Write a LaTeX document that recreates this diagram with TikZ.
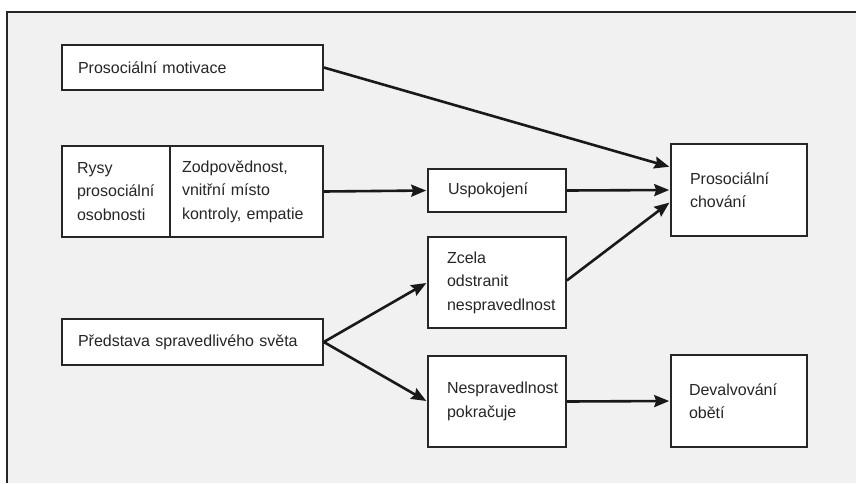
\documentclass[tikz,border=0pt]{standalone}
\usepackage{fontspec}
\setmainfont{Liberation Sans}
\usetikzlibrary{arrows.meta}
\begin{document}
\begin{tikzpicture}[x=1pt,y=-1pt,
  box/.style={draw=black!85, line width=1.6pt, fill=white, align=left,
    inner ysep=0pt, text=black!85, font=\fontsize{16}{23.5}\selectfont},
  conn/.style={draw=black!90, line width=2.6pt,
    -{Stealth[length=15pt,width=12pt,inset=2pt]}, shorten >=1pt}]
\useasboundingbox (0,0) rectangle (856,483);
\fill[gray!11] (7,12) rectangle (856,483);
\draw[line width=2.5pt, black!85] (7,483) -- (7,12) -- (856,12);

\node[box, inner xsep=16pt, text width=229pt, minimum height=45pt] (motiv) at (192.5,67.5) {Prosociální motivace};
\node[box, inner xsep=15pt, text width=78pt, minimum height=91pt] (rysy) at (116,191.5) {Rysy\\prosociální\\osobnosti};
\node[box, inner xsep=12pt, text width=129pt, minimum height=91pt] (zodp) at (246.5,191.5) {Zodpovědnost,\\vnitřní místo\\kontroly, empatie};
\node[box, inner xsep=16pt, text width=229pt, minimum height=46pt] (predst) at (192.5,342) {Představa spravedlivého světa};
\node[box, inner xsep=20pt, text width=98pt, minimum height=43pt] (usp) at (497,190.5) {Uspokojení};
\node[box, inner xsep=19pt, text width=98pt, minimum height=92pt] (chov) at (739,190) {Prosociální\\chování};
\node[box, inner xsep=19pt, text width=100pt, minimum height=91pt] (zcela) at (497,282.5) {Zcela\\odstranit\\nespravedlnost};
\node[box, inner xsep=19pt, text width=100pt, minimum height=91pt] (nespr) at (497,401.5) {Nespravedlnost\\pokračuje};
\node[box, inner xsep=18pt, text width=100pt, minimum height=92pt] (deval) at (739,401) {Devalvování\\obětí};

\draw[conn] (motiv.east) -- ([yshift=23pt]chov.west);
\draw[conn] (zodp.east) -- (usp.west);
\draw[conn] (usp.east) -- (chov.west);
\draw[conn] ([yshift=2pt]zcela.east) -- ([yshift=-12pt]chov.west);
\draw[conn] (predst.east) -- (zcela.west);
\draw[conn] (predst.east) -- (nespr.west);
\draw[conn] (nespr.east) -- (deval.west);
\end{tikzpicture}
\end{document}
